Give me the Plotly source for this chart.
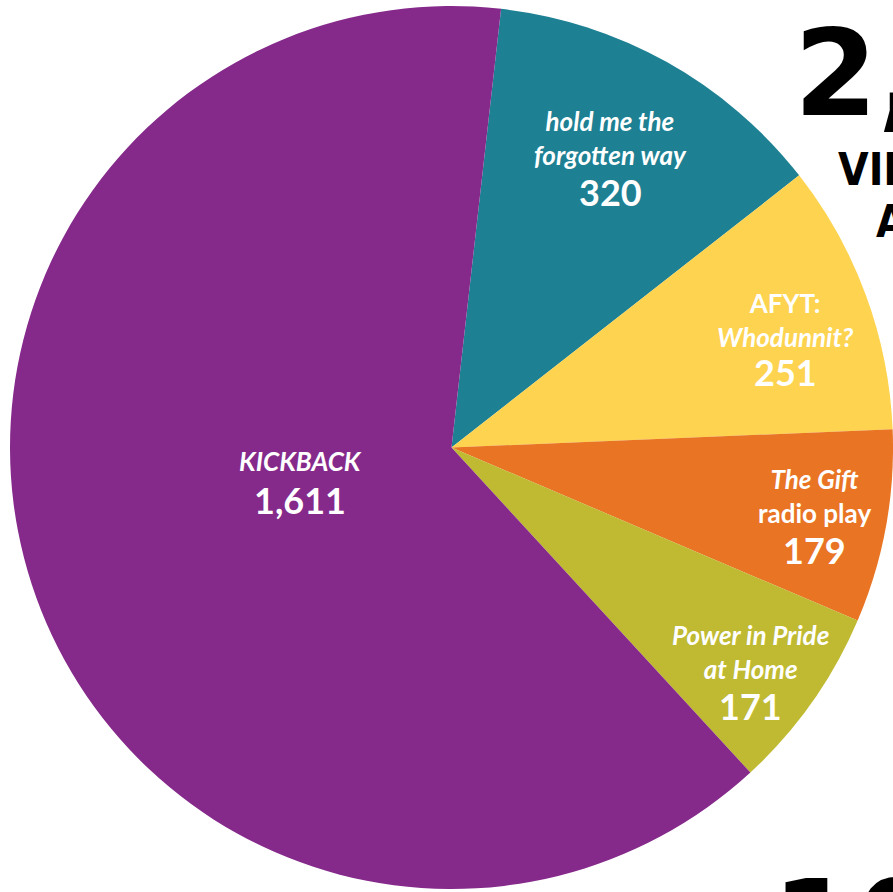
import plotly.graph_objects as go

# Data
shows = ["hold me the forgotten way", "AFYT: Whodunnit?", "The Gift radio play",
         "Power in Pride at Home", "KICKBACK"]
audience = [320, 251, 179, 171, 1611]
label_html = ["<i>hold me the<br>forgotten way</i>",
              "AFYT:<br><i>Whodunnit?</i>",
              "<i>The Gift</i><br>radio play",
              "<i>Power in Pride<br>at Home</i>",
              "<i>KICKBACK</i>"]
colors = ["#1E8093", "#FDD34F", "#E87424", "#BFBA31", "#852A8B"]
total = sum(audience)

# Layout (pixel positions: label centre x, label centre y, number centre y)
label_pos = [(610, 138, 192), (785, 320, 372), (814, 496, 550), (750, 652, 706), (300, 461, 500)]
ML, MT, W, H = 10, 5, 883, 885

def px(x, y):
    return (x - ML) / W, 1 - (y - MT) / H

fig = go.Figure(go.Pie(
    labels=shows, values=audience, textinfo="none",
    sort=False, direction="clockwise", rotation=6.45,
    marker=dict(colors=colors, line=dict(width=0)),
    hoverinfo="label+value", showlegend=False,
))

ann = []
for lab, v, (x, yl, yn) in zip(label_html, audience, label_pos):
    for t, y, s in [(f"<b>{lab}</b>", yl, 26), (f"<b>{v:,}</b>", yn, 36)]:
        xx, yy = px(x, y)
        ann.append(dict(x=xx, y=yy, xref="paper", yref="paper", showarrow=False,
                        xanchor="center", yanchor="middle", align="center", text=t,
                        font=dict(family="Lato, Open Sans, sans-serif", size=s, color="white")))

for t, x, y, s, fam in [(f"<b>{total:,}</b>", 792, 2, 120, "DejaVu Sans"),
                        ("<b>VIRTUAL</b>", 836, 142, 44, "DejaVu Sans Condensed"),
                        ("<b>AUDIENCE</b>", 874, 194, 44, "DejaVu Sans Condensed"),
                        ("<b>10</b>", 770, 852, 120, "DejaVu Sans")]:
    xx, yy = px(x, y)
    ann.append(dict(x=xx, y=yy, xref="paper", yref="paper", text=t, showarrow=False,
                    xanchor="left", yanchor="top",
                    font=dict(family=fam, size=s, color="black")))

fig.update_layout(
    width=893, height=892,
    margin=dict(l=ML, r=0, t=MT, b=2),
    paper_bgcolor="white",
    annotations=ann,
)

fig.write_html("out.html")
